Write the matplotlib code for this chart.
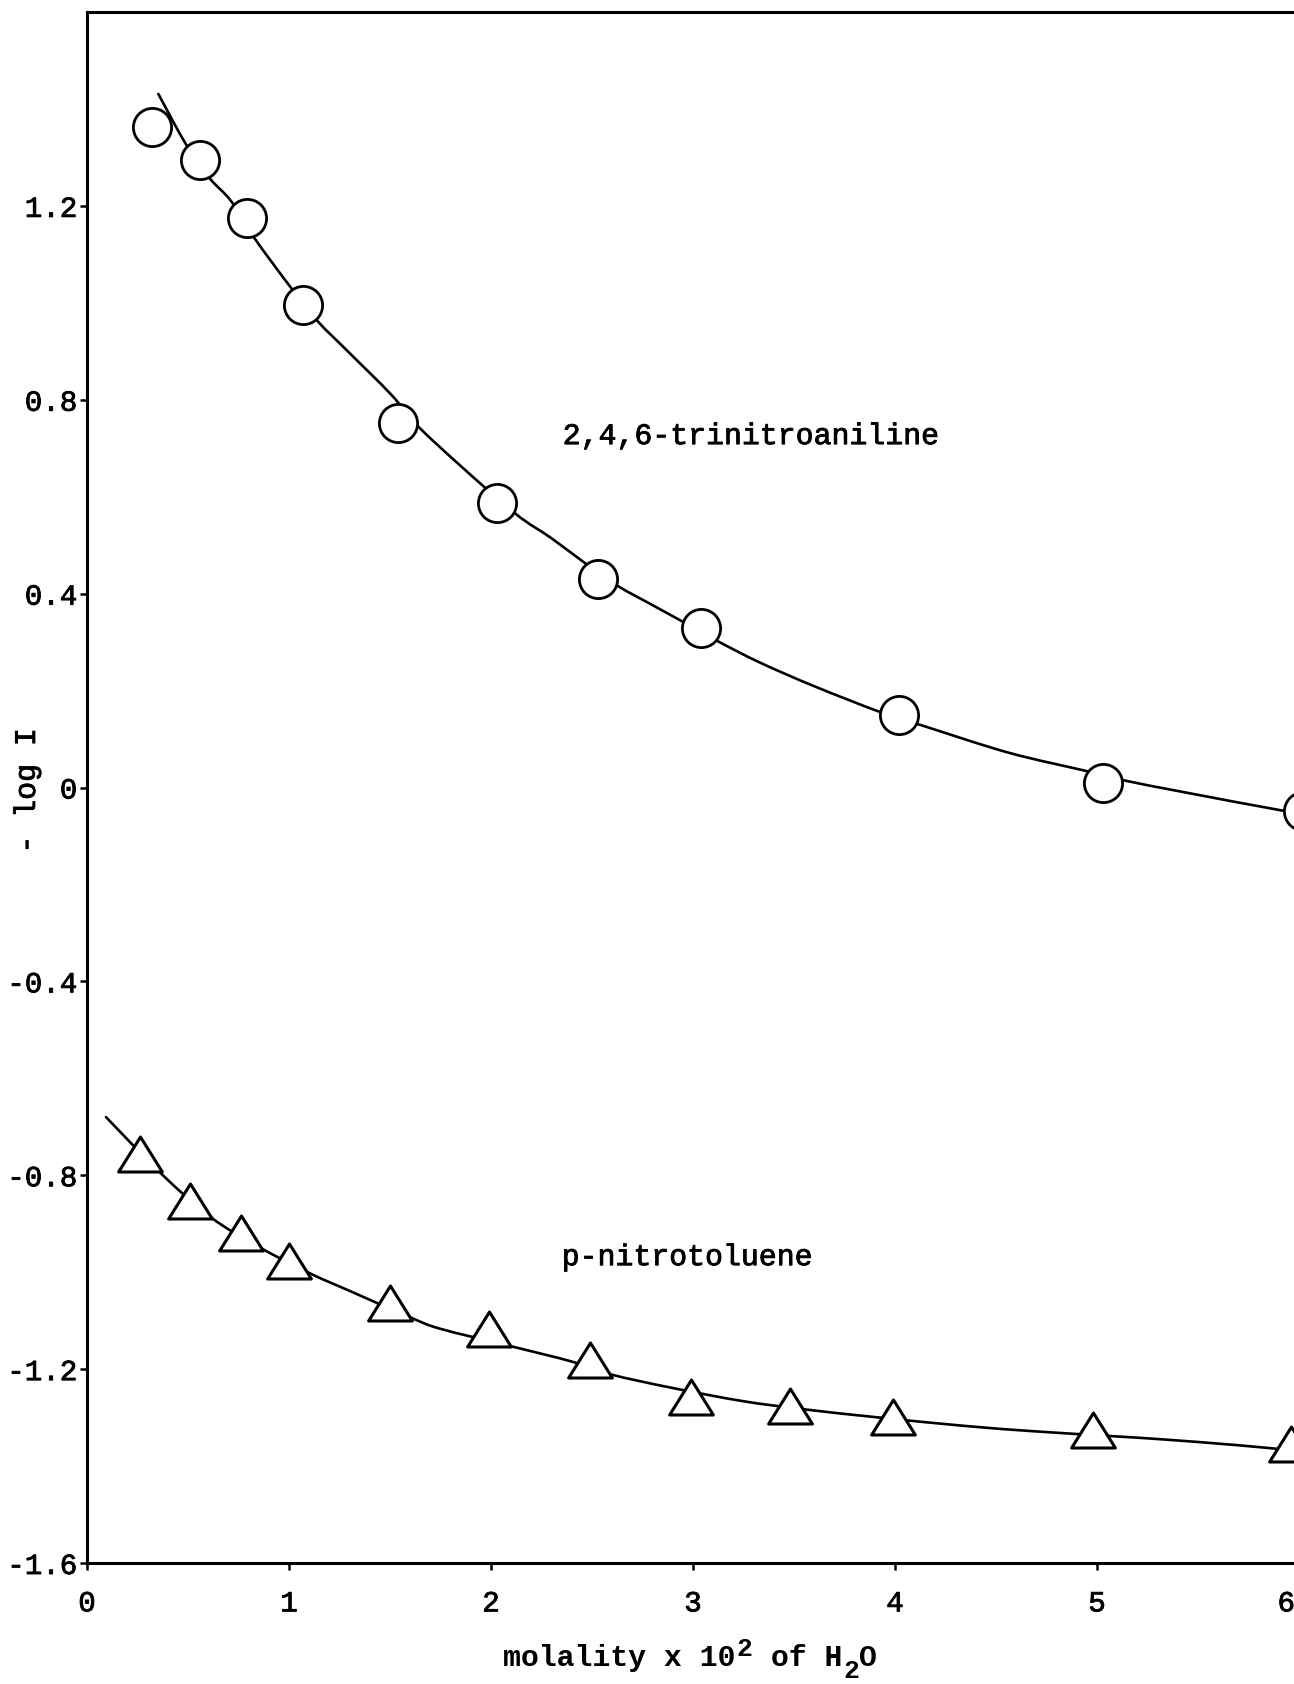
import matplotlib
matplotlib.use("Agg")
import matplotlib.pyplot as plt
import matplotlib.patheffects as pe
from matplotlib.path import Path
from matplotlib.patches import PathPatch
from matplotlib.transforms import ScaledTranslation

# ---------------- data ----------------
tna_x = [0.32, 0.56, 0.79, 1.07, 1.54, 2.03, 2.53, 3.04, 4.02, 5.03, 6.02]
tna_y = [1.362, 1.294, 1.176, 0.995, 0.753, 0.588, 0.431, 0.329, 0.150, 0.010, -0.048]

pnt_x = [0.26, 0.51, 0.76, 1.00, 1.50, 1.99, 2.49, 2.99, 3.48, 3.99, 4.98, 5.96]
pnt_y = [-0.756, -0.854, -0.919, -0.976, -1.063, -1.117, -1.182, -1.258, -1.276, -1.299, -1.326, -1.355]

# hand-drawn smooth curves, read along their paths
tna_curve_x = [0.353, 0.490, 0.605, 0.713, 0.828, 1.010, 1.142, 1.291, 1.505, 1.637, 1.851,
               2.124, 2.297, 2.462, 2.627, 2.792, 2.941, 3.122, 3.330, 3.600, 3.931, 4.134,
               4.561, 4.947, 5.130, 5.435, 5.923, 6.05]
tna_curve_y = [1.431, 1.327, 1.258, 1.210, 1.134, 1.031, 0.962, 0.900, 0.811, 0.746, 0.663,
               0.564, 0.515, 0.464, 0.416, 0.378, 0.344, 0.302, 0.258, 0.209, 0.155, 0.128,
               0.072, 0.034, 0.015, -0.010, -0.048, -0.055]

pnt_curve_x = [0.094, 0.368, 0.614, 0.851, 1.107, 1.297, 1.599, 1.751, 2.101, 2.396, 2.594,
               2.888, 3.246, 3.552, 3.902, 4.341, 4.680, 5.063, 5.327, 5.698, 5.98, 6.05]
pnt_curve_y = [-0.680, -0.797, -0.887, -0.948, -1.003, -1.038, -1.093, -1.117, -1.153, -1.184,
               -1.211, -1.238, -1.266, -1.283, -1.299, -1.317, -1.328, -1.338, -1.345, -1.357,
               -1.368, -1.370]

x_ticks = [0, 1, 2, 3, 4, 5, 6]
x_tick_labels = ["0", "1", "2", "3", "4", "5", "6"]
y_ticks = [-1.6, -1.2, -0.8, -0.4, 0.0, 0.4, 0.8, 1.2]
y_tick_labels = ["-1.6", "-1.2", "-0.8", "-0.4", "0", "0.4", "0.8", "1.2"]

label_tna = "2,4,6-trinitroaniline"
label_pnt = "p-nitrotoluene"
y_label = "- log I"
x_label_parts = ["molality x 10", "2", " of H", "2", "O"]

# ---------------- style ----------------
FONT = ["Liberation Mono", "DejaVu Sans Mono"]
plt.rcParams["font.family"] = FONT
plt.rcParams["axes.unicode_minus"] = False

THICK = [pe.withStroke(linewidth=0.6, foreground="black")]

W, H = 1294, 1684
fig = plt.figure(figsize=(W / 100, H / 100), dpi=100)
fig.patch.set_facecolor("white")

left_px, right_px, top_px, bottom_px = 87, 1299, 12, 1563
ax = fig.add_axes([left_px / W, 1 - bottom_px / H,
                   (right_px - left_px) / W, (bottom_px - top_px) / H])
ax.set_xlim(0, 6)
ax.set_ylim(-1.6, 1.6)

for s in ["left", "bottom", "top"]:
    ax.spines[s].set_linewidth(2.2)
    ax.spines[s].set_color("black")
ax.spines["right"].set_visible(False)


def smooth_path(xs, ys):
    """Catmull-Rom style cubic Bezier path through the given points."""
    pts = list(zip(xs, ys))
    n = len(pts)
    verts = [pts[0]]
    codes = [Path.MOVETO]
    for i in range(n - 1):
        p0 = pts[i - 1] if i > 0 else pts[i]
        p1 = pts[i]
        p2 = pts[i + 1]
        p3 = pts[i + 2] if i + 2 < n else pts[i + 1]
        c1 = (p1[0] + (p2[0] - p0[0]) / 6.0, p1[1] + (p2[1] - p0[1]) / 6.0)
        c2 = (p2[0] - (p3[0] - p1[0]) / 6.0, p2[1] - (p3[1] - p1[1]) / 6.0)
        verts += [c1, c2, p2]
        codes += [Path.CURVE4, Path.CURVE4, Path.CURVE4]
    return Path(verts, codes)


for cx, cy in [(tna_curve_x, tna_curve_y), (pnt_curve_x, pnt_curve_y)]:
    ax.add_patch(PathPatch(smooth_path(cx, cy), facecolor="none", edgecolor="black",
                           lw=1.9, zorder=2, capstyle="round", joinstyle="round"))

# markers
ax.plot(tna_x, tna_y, linestyle="none", marker="o", markersize=27.5,
        markerfacecolor="white", markeredgecolor="black", markeredgewidth=2.0, zorder=3)

tri = Path([(-0.625, -0.5), (0.625, -0.5), (0.0, 0.5), (-0.625, -0.5)],
           [Path.MOVETO, Path.LINETO, Path.LINETO, Path.CLOSEPOLY])
ax.plot(pnt_x, pnt_y, linestyle="none", marker=tri, markersize=31.5,
        markerfacecolor="white", markeredgecolor="black", markeredgewidth=2.2, zorder=3)

# ticks
ax.set_xticks(x_ticks)
ax.set_xticklabels(x_tick_labels)
ax.set_yticks(y_ticks)
ax.set_yticklabels(y_tick_labels)
ax.tick_params(axis="both", direction="out", length=5, width=1.8, labelsize=21,
               colors="black")
ax.tick_params(axis="x", pad=14)
ax.tick_params(axis="y", pad=2)
ax.tick_params(top=False, right=False)

for lab in ax.get_xticklabels() + ax.get_yticklabels():
    lab.set_path_effects(THICK)
for lab in ax.get_xticklabels():
    if lab.get_text() == "6":
        lab.set_horizontalalignment("right")
        lab.set_transform(lab.get_transform() + ScaledTranslation(-4 / 100, 0, fig.dpi_scale_trans))

# annotations
ax.text(2.355, 0.725, label_tna, fontsize=21.5, ha="left", va="center", family=FONT,
        path_effects=THICK)
ax.text(2.35, -0.969, label_pnt, fontsize=21.5, ha="left", va="center", family=FONT,
        path_effects=THICK)

# x-axis title, built from chained pieces so exponent/subscript stay near full size
xkw = dict(family=FONT, fontweight="bold", annotation_clip=False)
t1 = fig.text(503 / W, 1 - 1672 / H, x_label_parts[0], fontsize=21.5, ha="left",
              va="bottom", family=FONT, fontweight="bold")
t2 = ax.annotate(x_label_parts[1], xy=(1.0, 0.40), xycoords=t1, xytext=(1, 0),
                 textcoords="offset points", ha="left", va="bottom", fontsize=19, **xkw)
t3 = ax.annotate(x_label_parts[2], xy=(1.0, 0.0), xycoords=(t2, t1), ha="left",
                 va="bottom", fontsize=21.5, **xkw)
t4 = ax.annotate(x_label_parts[3], xy=(1.0, 0.05), xycoords=(t3, t1), xytext=(1, 0),
                 textcoords="offset points", ha="left", va="center", fontsize=19, **xkw)
t5 = ax.annotate(x_label_parts[4], xy=(1.0, 0.0), xycoords=(t4, t1), ha="left",
                 va="bottom", fontsize=21.5, **xkw)

fig.text(27 / W, 1 - 791 / H, y_label, fontsize=21.5, ha="center", va="center",
         rotation=90, family=FONT, path_effects=THICK)

fig.savefig("out.png", dpi=100, facecolor="white")
